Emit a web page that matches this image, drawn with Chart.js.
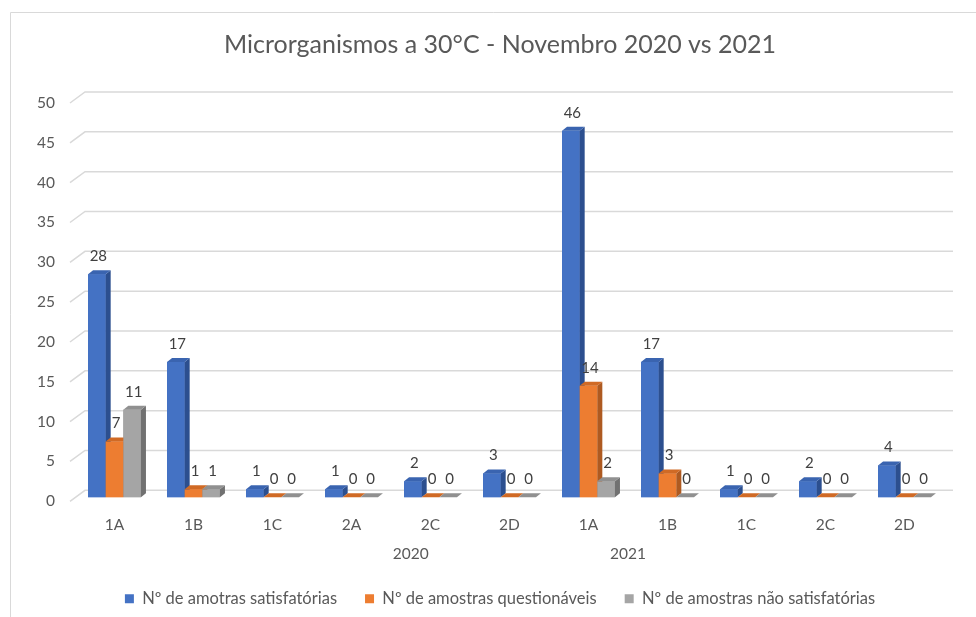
<!DOCTYPE html>
<html><head><meta charset="utf-8">
<script src="https://cdn.jsdelivr.net/npm/chart.js@4.4.1/dist/chart.umd.min.js"></script>
<style>html,body{margin:0;padding:0;background:#fff;overflow:hidden}</style>
</head><body>
<canvas id="c" width="976" height="617"></canvas>
<script>
// ---- data ----
const categories = ['1A','1B','1C','2A','2C','2D','1A','1B','1C','2C','2D'];
const years = ['2020','2021'];
const yearGroupSizes = [6, 5];
const satisfatorias = [28,17,1,1,2,3,46,17,1,2,4];
const questionaveis = [7,1,0,0,0,0,14,3,0,0,0];
const naoSatisfatorias = [11,1,0,0,0,0,2,0,0,0,0];
const seriesNames = ['Nº de amotras satisfatórias','Nº de amostras questionáveis','Nº de amostras não satisfatórias'];
const yMin = 0, yMax = 50, yStep = 5;

// ---- styling ----
const FONT = 'Lato, "Open Sans", sans-serif';
const TXT = '#595959';
const front = ['#4472c4','#ed7d31','#a5a5a5'];
const topC  = ['#3a64b0','#d06a25','#909090'];
const sideC = ['#2c4f8f','#ae5a21','#717171'];
const DX = 5, DY = -4;

// group centers for year labels
const yearCenters = [];
{ let s = 0; yearGroupSizes.forEach(n => { yearCenters.push(s + (n - 1) / 2); s += n; }); }

const framePlugin = {
  id: 'frame',
  beforeDraw(chart) {
    const ctx = chart.ctx;
    ctx.save();
    ctx.strokeStyle = '#d9d9d9'; ctx.lineWidth = 1;
    ctx.beginPath();
    ctx.moveTo(10.5, 617); ctx.lineTo(10.5, 12.5); ctx.lineTo(976, 12.5);
    ctx.stroke();
    ctx.restore();
  }
};

const wallPlugin = {
  id: 'wall',
  beforeDatasetsDraw(chart) {
    const ctx = chart.ctx, y = chart.scales.y, a = chart.chartArea;
    ctx.save();
    ctx.strokeStyle = '#d9d9d9'; ctx.lineWidth = 1.5;
    for (let v = yMin; v <= yMax; v += yStep) {
      const py = y.getPixelForValue(v);
      ctx.beginPath();
      ctx.moveTo(a.left - 5, py + 4);
      ctx.lineTo(a.left + 10, py - 7);
      ctx.lineTo(a.right + 9, py - 7);
      ctx.stroke();
    }
    ctx.restore();
  }
};

const bars3dPlugin = {
  id: 'bars3d',
  afterDatasetsDraw(chart) {
    const ctx = chart.ctx;
    ctx.save();
    chart.data.datasets.forEach((ds, di) => {
      const meta = chart.getDatasetMeta(di);
      meta.data.forEach(el => {
        const {x, y, base, width} = el.getProps(['x','y','base','width'], true);
        const l = x - width / 2, r = x + width / 2;
        ctx.fillStyle = front[di];
        ctx.fillRect(l, y, width, base - y);
        ctx.fillStyle = sideC[di];
        ctx.beginPath();
        ctx.moveTo(r, y); ctx.lineTo(r + DX, y + DY); ctx.lineTo(r + DX, base + DY); ctx.lineTo(r, base);
        ctx.closePath(); ctx.fill();
        ctx.fillStyle = topC[di];
        ctx.beginPath();
        ctx.moveTo(l, y); ctx.lineTo(l + DX, y + DY); ctx.lineTo(r + DX, y + DY); ctx.lineTo(r, y);
        ctx.closePath(); ctx.fill();
      });
    });
    ctx.fillStyle = '#404040';
    ctx.font = '15px ' + FONT;
    ctx.textAlign = 'center'; ctx.textBaseline = 'middle';
    chart.data.datasets.forEach((ds, di) => {
      const meta = chart.getDatasetMeta(di);
      meta.data.forEach((el, i) => {
        const {x, y} = el.getProps(['x','y'], true);
        ctx.fillText(String(ds.data[i]), x + 1.5, y - 18);
      });
    });
    ctx.restore();
  }
};

new Chart(document.getElementById('c'), {
  type: 'bar',
  data: {
    labels: categories,
    datasets: [
      { label: seriesNames[0], data: satisfatorias, backgroundColor: front[0], borderWidth: 0 },
      { label: seriesNames[1], data: questionaveis, backgroundColor: front[1], borderWidth: 0 },
      { label: seriesNames[2], data: naoSatisfatorias, backgroundColor: front[2], borderWidth: 0 }
    ]
  },
  options: {
    responsive: false,
    animation: false,
    devicePixelRatio: 1,
    layout: { padding: { left: 56, right: 32, top: 18, bottom: 0 } },
    datasets: { bar: { categoryPercentage: 0.67, barPercentage: 1 } },
    plugins: {
      title: {
        display: true,
        text: 'Microrganismos a 30°C - Novembro 2020 vs 2021',
        color: TXT,
        font: { family: FONT, size: 25, weight: 'normal' },
        padding: { top: 12, bottom: 39 }
      },
      legend: {
        position: 'bottom',
        labels: {
          boxWidth: 9, boxHeight: 9, padding: 28,
          color: TXT, font: { family: FONT, size: 16.5 }
        }
      },
      tooltip: { enabled: false }
    },
    scales: {
      x: {
        type: 'category',
        offset: true,
        grid: { display: false, drawTicks: false },
        border: { display: false },
        ticks: { color: TXT, font: { family: FONT, size: 15.5 }, padding: 18, maxRotation: 0, autoSkip: false },
        afterFit(s) { s.height = 37; }
      },
      x2: {
        type: 'linear',
        position: 'bottom',
        weight: 1,
        min: -0.5, max: categories.length - 0.5,
        grid: { display: false, drawTicks: false },
        border: { display: false },
        afterBuildTicks(s) { s.ticks = yearCenters.map(v => ({ value: v })); },
        ticks: { color: TXT, font: { family: FONT, size: 15.5 }, padding: 10, autoSkip: false, callback: (v, i) => years[i] },
        afterFit(s) { s.height = 28.2; }
      },
      y: {
        min: yMin, max: yMax,
        grid: { display: false, drawTicks: false },
        border: { display: false },
        ticks: { stepSize: yStep, color: TXT, font: { family: FONT, size: 15.5 }, mirror: true, crossAlign: 'far', padding: -38, labelOffset: 4 },
        afterFit(s) { s.width = 19; }
      }
    }
  },
  plugins: [framePlugin, wallPlugin, bars3dPlugin]
});
</script>
</body></html>
